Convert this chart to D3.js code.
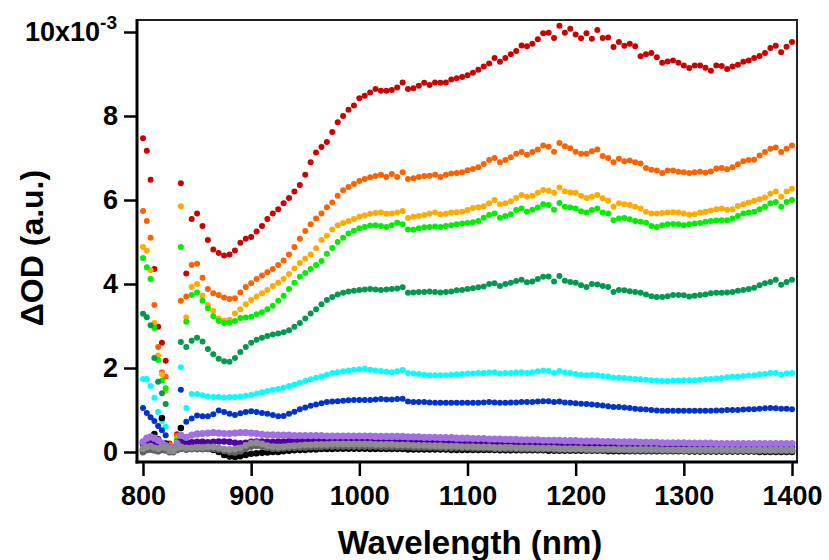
<!DOCTYPE html>
<html>
<head>
<meta charset="utf-8">
<script src="https://cdn.jsdelivr.net/npm/d3@7"></script>
<style>
  body { margin: 0; background: #fff; }
  svg text { font-family: "Liberation Sans", Arial, sans-serif; font-weight: bold; fill: #000; }
</style>
</head>
<body>
<svg id="chart" width="829" height="560"></svg>
<script>
// Wavelength grids (nm): noisy early points, then the main scan.
var earlyNm = [800, 803.5, 807, 810.5, 814, 817.5, 821, 824.5, 828, 831.5, 835];
var mainNm = [
  840, 845, 850, 855, 860, 865, 870, 875, 880, 885,
  890, 895, 900, 905, 910, 915, 920, 925, 930, 935,
  940, 945, 950, 955, 960, 965, 970, 975, 980, 985,
  990, 995, 1000, 1005, 1010, 1015, 1020, 1025, 1030, 1035,
  1040, 1045, 1050, 1055, 1060, 1065, 1070, 1075, 1080, 1085,
  1090, 1095, 1100, 1105, 1110, 1115, 1120, 1125, 1130, 1135,
  1140, 1145, 1150, 1155, 1160, 1165, 1170, 1175, 1180, 1185,
  1190, 1195, 1200, 1205, 1210, 1215, 1220, 1225, 1230, 1235,
  1240, 1245, 1250, 1255, 1260, 1265, 1270, 1275, 1280, 1285,
  1290, 1295, 1300, 1305, 1310, 1315, 1320, 1325, 1330, 1335,
  1340, 1345, 1350, 1355, 1360, 1365, 1370, 1375, 1380, 1385,
  1390, 1395, 1400];

// dOD values in units of 1e-3.
var redEarly = [7.47, 7.17, 6.48, 4.36, 2.98, 2.6, 2.17, 0.2, 0.12, 0.42, 6.4];
var red = [
  4.25, 5.55, 5.68, 5.38, 5.05, 4.82, 4.74, 4.68, 4.7, 4.8,
  4.98, 5.08, 5.12, 5.25, 5.38, 5.55, 5.68, 5.78, 5.92, 6.05,
  6.2, 6.36, 6.6, 6.9, 7.13, 7.26, 7.38, 7.62, 7.85, 8.0,
  8.15, 8.25, 8.42, 8.48, 8.56, 8.64, 8.6, 8.6, 8.62, 8.68,
  8.8, 8.64, 8.66, 8.72, 8.79, 8.74, 8.8, 8.79, 8.8, 8.87,
  8.9, 8.93, 8.97, 9.03, 9.1, 9.18, 9.25, 9.38, 9.29, 9.38,
  9.47, 9.55, 9.68, 9.66, 9.72, 9.83, 9.97, 9.98, 9.86, 10.15,
  9.98, 10.08, 9.94, 9.85, 9.97, 9.84, 10.05, 9.86, 9.87, 9.64,
  9.76, 9.67, 9.72, 9.66, 9.42, 9.47, 9.5, 9.4, 9.27, 9.3,
  9.32, 9.27, 9.2, 9.14, 9.2, 9.2, 9.15, 9.08, 9.2, 9.19,
  9.12, 9.18, 9.22, 9.29, 9.32, 9.38, 9.43, 9.5, 9.62, 9.67,
  9.52, 9.65, 9.76];

var orangeEarly = [5.74, 5.5, 5.1, 3.5, 2.5, 1.9, 1.79, 0.18, 0.1, 0.38, 3.6];
var orange = [
  3.7, 4.45, 4.48, 4.15, 3.88, 3.78, 3.74, 3.68, 3.64, 3.66,
  3.8, 3.93, 4.02, 4.12, 4.2, 4.28, 4.36, 4.45, 4.56, 4.7,
  4.88, 5.08, 5.26, 5.42, 5.56, 5.68, 5.83, 5.94, 6.1, 6.23,
  6.31, 6.38, 6.45, 6.5, 6.54, 6.57, 6.6, 6.55, 6.62, 6.55,
  6.66, 6.5, 6.52, 6.55, 6.57, 6.58, 6.6, 6.55, 6.6, 6.63,
  6.64, 6.66, 6.71, 6.74, 6.78, 6.86, 6.95, 7.0, 6.9, 6.95,
  7.02, 7.1, 7.14, 7.08, 7.14, 7.2, 7.3, 7.27, 7.15, 7.36,
  7.28, 7.23, 7.15, 7.1, 7.1, 7.16, 7.2, 7.05, 7.0, 6.9,
  6.98, 6.92, 6.94, 6.9, 6.87, 6.76, 6.72, 6.7, 6.64, 6.7,
  6.7, 6.67, 6.66, 6.64, 6.66, 6.67, 6.65, 6.68, 6.75, 6.76,
  6.73, 6.78, 6.85, 6.92, 6.95, 6.96, 7.06, 7.14, 7.22, 7.25,
  7.14, 7.22, 7.3];

var amberEarly = [4.88, 4.79, 4.33, 3.07, 2.3, 1.85, 1.45, 0.15, 0.1, 0.33, 5.85];
var amber = [
  3.2, 3.93, 4.0, 3.72, 3.5, 3.36, 3.18, 3.13, 3.15, 3.3,
  3.4, 3.52, 3.62, 3.7, 3.78, 3.86, 3.95, 4.03, 4.12, 4.24,
  4.37, 4.5, 4.6, 4.7, 4.85, 5.05, 5.15, 5.3, 5.4, 5.45,
  5.5, 5.55, 5.6, 5.63, 5.67, 5.69, 5.7, 5.67, 5.68, 5.7,
  5.74, 5.57, 5.6, 5.62, 5.64, 5.68, 5.7, 5.66, 5.67, 5.7,
  5.71, 5.72, 5.76, 5.81, 5.83, 5.85, 5.92, 6.0, 5.9, 5.92,
  5.97, 6.05, 6.12, 6.08, 6.1, 6.17, 6.24, 6.22, 6.17, 6.3,
  6.2, 6.18, 6.17, 6.1, 6.05, 6.08, 6.12, 6.04, 5.98, 5.84,
  5.92, 5.9, 5.88, 5.84, 5.8, 5.72, 5.68, 5.68, 5.69, 5.7,
  5.71, 5.7, 5.68, 5.65, 5.66, 5.7, 5.72, 5.75, 5.78, 5.8,
  5.77, 5.78, 5.86, 5.9, 5.94, 5.98, 6.02, 6.06, 6.15, 6.2,
  6.08, 6.2, 6.27];

var greenEarly = [4.62, 4.4, 4.12, 2.95, 2.19, 1.7, 1.52, 0.14, 0.08, 0.28, 4.88];
var green = [
  3.1, 3.74, 3.8, 3.6, 3.42, 3.23, 3.12, 3.07, 3.08, 3.12,
  3.19, 3.2, 3.22, 3.28, 3.33, 3.4, 3.48, 3.6, 3.72, 3.88,
  4.03, 4.17, 4.26, 4.36, 4.45, 4.55, 4.72, 4.86, 5.0, 5.1,
  5.2, 5.27, 5.33, 5.36, 5.39, 5.4, 5.38, 5.36, 5.4, 5.46,
  5.42, 5.3, 5.29, 5.33, 5.35, 5.36, 5.37, 5.36, 5.38, 5.4,
  5.42, 5.44, 5.45, 5.47, 5.5, 5.58, 5.64, 5.68, 5.58, 5.62,
  5.66, 5.76, 5.8, 5.72, 5.77, 5.82, 5.9, 5.88, 5.77, 5.93,
  5.84, 5.82, 5.8, 5.73, 5.7, 5.76, 5.8, 5.7, 5.68, 5.52,
  5.56, 5.57, 5.54, 5.5, 5.48, 5.46, 5.38, 5.36, 5.4, 5.42,
  5.43, 5.42, 5.4, 5.42, 5.44, 5.45, 5.48, 5.5, 5.51, 5.52,
  5.52, 5.56, 5.62, 5.68, 5.7, 5.72, 5.78, 5.84, 5.92, 5.95,
  5.84, 5.95, 6.0];

var forestEarly = [3.29, 3.21, 3.02, 2.24, 1.67, 1.4, 1.14, 0.12, 0.07, 0.25, 2.62];
var forest = [
  2.5, 2.65, 2.72, 2.63, 2.45, 2.33, 2.22, 2.16, 2.15, 2.24,
  2.38, 2.5, 2.6, 2.67, 2.72, 2.76, 2.8, 2.82, 2.85, 2.9,
  2.98, 3.07, 3.18, 3.3, 3.4, 3.52, 3.62, 3.69, 3.75, 3.79,
  3.82, 3.84, 3.86, 3.87, 3.88, 3.87, 3.86, 3.87, 3.88, 3.89,
  3.92, 3.79, 3.8, 3.81, 3.81, 3.82, 3.81, 3.8, 3.81, 3.82,
  3.85, 3.86, 3.88, 3.9, 3.92, 3.94, 4.0, 4.02, 3.95, 4.0,
  4.03, 4.07, 4.1, 4.04, 4.06, 4.12, 4.17, 4.18, 4.06, 4.19,
  4.08, 4.05, 4.03, 3.97, 3.93, 4.0, 3.99, 3.95, 3.93, 3.81,
  3.86, 3.85, 3.83, 3.81, 3.79, 3.75, 3.71, 3.69, 3.69, 3.71,
  3.74, 3.74, 3.73, 3.7, 3.72, 3.74, 3.75, 3.78, 3.79, 3.79,
  3.8, 3.81, 3.84, 3.86, 3.88, 3.91, 3.97, 4.02, 4.05, 4.1,
  3.98, 4.05, 4.1];

var cyanEarly = [1.74, 1.74, 1.57, 1.29, 0.95, 0.74, 0.6, 0.1, 0.06, 0.22, 2.02];
var cyan = [
  1.05, 1.38, 1.38, 1.35, 1.32, 1.31, 1.31, 1.3, 1.31, 1.31,
  1.32, 1.34, 1.36, 1.39, 1.42, 1.45, 1.48, 1.5, 1.53, 1.57,
  1.61, 1.65, 1.69, 1.73, 1.77, 1.8, 1.84, 1.88, 1.9, 1.92,
  1.94, 1.96, 1.97, 1.98, 1.96, 1.94, 1.93, 1.91, 1.9, 1.92,
  1.95, 1.88, 1.87, 1.86, 1.84, 1.83, 1.83, 1.83, 1.83, 1.84,
  1.85, 1.86, 1.87, 1.87, 1.88, 1.88, 1.89, 1.9, 1.87, 1.88,
  1.88, 1.89, 1.9, 1.88, 1.9, 1.92, 1.94, 1.93, 1.88, 1.93,
  1.89, 1.88, 1.86, 1.84, 1.83, 1.84, 1.83, 1.81, 1.8, 1.77,
  1.77, 1.76, 1.75, 1.74, 1.73, 1.72, 1.71, 1.7, 1.69, 1.69,
  1.7, 1.7, 1.71, 1.71, 1.71, 1.72, 1.73, 1.74, 1.75, 1.76,
  1.78, 1.79, 1.8, 1.81, 1.82, 1.83, 1.85, 1.86, 1.88, 1.88,
  1.84, 1.87, 1.88];

var blueEarly = [1.05, 0.93, 0.83, 0.74, 0.62, 0.52, 0.4, 0.08, 0.05, 0.18, 1.48];
var blue = [
  0.72, 0.8, 0.87, 0.85, 0.85, 0.9, 0.99, 0.95, 0.91, 0.88,
  0.92, 0.95, 0.97, 0.95, 0.93, 0.91, 0.88, 0.85, 0.86, 0.91,
  0.96, 1.02, 1.06, 1.1, 1.13, 1.16, 1.19, 1.2, 1.21, 1.22,
  1.23, 1.24, 1.24, 1.24, 1.24, 1.25, 1.26, 1.25, 1.25, 1.26,
  1.27, 1.2, 1.19, 1.19, 1.19, 1.18, 1.17, 1.17, 1.17, 1.17,
  1.17, 1.17, 1.17, 1.17, 1.17, 1.18, 1.19, 1.18, 1.17, 1.17,
  1.18, 1.18, 1.19, 1.19, 1.19, 1.2, 1.21, 1.21, 1.19, 1.2,
  1.18, 1.17, 1.16, 1.15, 1.14, 1.13, 1.12, 1.11, 1.09, 1.07,
  1.07, 1.06, 1.05, 1.03, 1.02, 1.01, 1.0, 0.99, 0.98, 0.98,
  0.98, 0.98, 0.98, 0.98, 0.98, 0.98, 0.98, 0.98, 0.99, 0.99,
  1.0, 1.0, 1.0, 1.01, 1.02, 1.02, 1.03, 1.04, 1.05, 1.04,
  1.03, 1.03, 1.02];

var blackEarly = [0.05, 0.12, 0.22, 0.43, 0.3, 0.81, 0.2, 0.05, 0.03, 0.1, 0.57];
var black = [
  0.12, 0.1, 0.08, 0.08, 0.07, 0.05, 0.0, -0.07, -0.11, -0.12,
  -0.1, -0.07, -0.04, -0.03, -0.02, -0.01, 0.0, 0.0, 0.02, 0.03,
  0.04, 0.05, 0.05, 0.06, 0.06, 0.07, 0.07, 0.07, 0.08, 0.08,
  0.08, 0.08, 0.08, 0.08, 0.07, 0.07, 0.07, 0.07, 0.07, 0.07,
  0.07, 0.06, 0.06, 0.06, 0.06, 0.06, 0.06, 0.06, 0.06, 0.05,
  0.05, 0.05, 0.05, 0.05, 0.05, 0.05, 0.05, 0.05, 0.04, 0.04,
  0.04, 0.04, 0.04, 0.04, 0.04, 0.04, 0.04, 0.03, 0.03, 0.03,
  0.03, 0.03, 0.03, 0.03, 0.03, 0.03, 0.03, 0.03, 0.02, 0.02,
  0.02, 0.02, 0.02, 0.02, 0.02, 0.02, 0.02, 0.02, 0.02, 0.02,
  0.02, 0.02, 0.02, 0.01, 0.01, 0.01, 0.01, 0.01, 0.01, 0.01,
  0.01, 0.01, 0.01, 0.01, 0.01, 0.01, 0.0, 0.0, 0.0, 0.0,
  0.0, 0.0, 0.0];

var violetEarly = [0.19, 0.2, 0.23, 0.24, 0.22, 0.17, 0.12, 0.08, 0.06, 0.15, 0.25];
var violet = [
  0.22, 0.23, 0.24, 0.24, 0.23, 0.24, 0.25, 0.25, 0.24, 0.22,
  0.21, 0.22, 0.24, 0.25, 0.25, 0.24, 0.24, 0.25, 0.25, 0.26,
  0.26, 0.27, 0.27, 0.27, 0.28, 0.28, 0.28, 0.28, 0.28, 0.28,
  0.28, 0.28, 0.28, 0.28, 0.27, 0.27, 0.27, 0.27, 0.27, 0.26,
  0.26, 0.26, 0.26, 0.25, 0.25, 0.25, 0.25, 0.24, 0.24, 0.24,
  0.24, 0.23, 0.23, 0.23, 0.22, 0.22, 0.22, 0.22, 0.21, 0.21,
  0.21, 0.2, 0.2, 0.2, 0.2, 0.19, 0.19, 0.19, 0.19, 0.18,
  0.18, 0.18, 0.18, 0.17, 0.17, 0.17, 0.17, 0.16, 0.16, 0.16,
  0.16, 0.15, 0.15, 0.15, 0.15, 0.15, 0.14, 0.14, 0.14, 0.14,
  0.14, 0.13, 0.13, 0.13, 0.13, 0.13, 0.13, 0.12, 0.12, 0.12,
  0.12, 0.12, 0.12, 0.12, 0.12, 0.12, 0.12, 0.12, 0.12, 0.12,
  0.12, 0.12, 0.12];

var lilacEarly = [0.24, 0.33, 0.36, 0.33, 0.28, 0.21, 0.15, 0.1, 0.08, 0.2, 0.4];
var lilac = [
  0.35, 0.4, 0.43, 0.44, 0.45, 0.46, 0.45, 0.44, 0.44, 0.45,
  0.46, 0.46, 0.45, 0.44, 0.42, 0.41, 0.41, 0.4, 0.4, 0.4,
  0.39, 0.39, 0.39, 0.39, 0.39, 0.39, 0.38, 0.38, 0.38, 0.38,
  0.38, 0.38, 0.38, 0.38, 0.38, 0.37, 0.37, 0.37, 0.37, 0.37,
  0.37, 0.36, 0.36, 0.36, 0.35, 0.35, 0.35, 0.34, 0.34, 0.34,
  0.33, 0.33, 0.33, 0.32, 0.32, 0.32, 0.31, 0.31, 0.31, 0.3,
  0.3, 0.3, 0.29, 0.29, 0.29, 0.29, 0.28, 0.28, 0.28, 0.28,
  0.27, 0.27, 0.27, 0.26, 0.26, 0.26, 0.26, 0.25, 0.25, 0.25,
  0.24, 0.24, 0.24, 0.24, 0.23, 0.23, 0.23, 0.23, 0.22, 0.22,
  0.22, 0.22, 0.22, 0.21, 0.21, 0.21, 0.21, 0.21, 0.2, 0.2,
  0.2, 0.2, 0.2, 0.2, 0.2, 0.2, 0.2, 0.2, 0.2, 0.2,
  0.2, 0.2, 0.2];

var slateEarly = [0.0, 0.05, 0.06, 0.04, 0.02, 0.05, 0.04, 0.0, 0.0, 0.05, 0.08];
var slate = [
  0.06, 0.07, 0.07, 0.07, 0.08, 0.08, 0.06, 0.03, 0.0, -0.01,
  0.02, 0.08, 0.13, 0.15, 0.13, 0.1, 0.08, 0.08, 0.09, 0.1,
  0.1, 0.11, 0.11, 0.12, 0.12, 0.12, 0.13, 0.13, 0.13, 0.13,
  0.13, 0.13, 0.13, 0.13, 0.13, 0.13, 0.12, 0.12, 0.12, 0.12,
  0.12, 0.12, 0.11, 0.11, 0.11, 0.11, 0.11, 0.1, 0.1, 0.1,
  0.1, 0.1, 0.1, 0.09, 0.09, 0.09, 0.09, 0.08, 0.08, 0.08,
  0.08, 0.08, 0.07, 0.07, 0.07, 0.07, 0.07, 0.07, 0.06, 0.06,
  0.06, 0.06, 0.06, 0.06, 0.05, 0.05, 0.05, 0.05, 0.05, 0.05,
  0.05, 0.05, 0.04, 0.04, 0.04, 0.04, 0.04, 0.04, 0.04, 0.04,
  0.04, 0.04, 0.03, 0.03, 0.03, 0.03, 0.03, 0.03, 0.03, 0.03,
  0.03, 0.03, 0.03, 0.03, 0.03, 0.03, 0.03, 0.03, 0.03, 0.03,
  0.03, 0.03, 0.03];

var greyEarly = [0.08, 0.12, 0.14, 0.1, 0.08, 0.12, 0.1, 0.04, 0.03, 0.1, 0.12];
var grey = [
  0.1, 0.1, 0.11, 0.11, 0.12, 0.12, 0.1, 0.07, 0.06, 0.07,
  0.1, 0.16, 0.21, 0.22, 0.19, 0.15, 0.13, 0.12, 0.13, 0.14,
  0.15, 0.16, 0.17, 0.17, 0.18, 0.18, 0.18, 0.19, 0.19, 0.19,
  0.19, 0.19, 0.19, 0.19, 0.19, 0.18, 0.18, 0.18, 0.18, 0.17,
  0.17, 0.17, 0.16, 0.16, 0.16, 0.15, 0.15, 0.15, 0.14, 0.14,
  0.14, 0.13, 0.13, 0.13, 0.12, 0.12, 0.12, 0.11, 0.11, 0.11,
  0.11, 0.1, 0.1, 0.1, 0.1, 0.09, 0.09, 0.09, 0.09, 0.08,
  0.08, 0.08, 0.08, 0.08, 0.07, 0.07, 0.07, 0.07, 0.07, 0.07,
  0.06, 0.06, 0.06, 0.06, 0.06, 0.06, 0.06, 0.06, 0.05, 0.05,
  0.05, 0.05, 0.05, 0.05, 0.05, 0.05, 0.05, 0.05, 0.05, 0.05,
  0.05, 0.05, 0.05, 0.05, 0.05, 0.05, 0.05, 0.05, 0.05, 0.05,
  0.05, 0.05, 0.05];

var yTicks = [0, 2, 4, 6, 8, 10];
var xTicks = [800, 900, 1000, 1100, 1200, 1300, 1400];

// Draw order: top traces first, the flat bands near zero last.
var series = [
  { color: "#cc0000", r: 3, early: redEarly, main: red },
  { color: "#ff6000", r: 3, early: orangeEarly, main: orange },
  { color: "#ffaa00", r: 3, early: amberEarly, main: amber },
  { color: "#00ee00", r: 3, early: greenEarly, main: green },
  { color: "#009a4e", r: 3, early: forestEarly, main: forest },
  { color: "#00ffff", r: 3, early: cyanEarly, main: cyan },
  { color: "#0033cc", r: 3, early: blueEarly, main: blue },
  { color: "#000000", r: 3.3, early: blackEarly, main: black },
  { color: "#5000a0", r: 3.3, early: violetEarly, main: violet },
  { color: "#a070e0", r: 3.6, early: lilacEarly, main: lilac },
  { color: "#606060", r: 3.4, early: slateEarly, main: slate },
  { color: "#8c8c8c", r: 3.4, early: greyEarly, main: grey }
];

var svg = d3.select("#chart");

var x = d3.scaleLinear().domain([800, 1400]).range([143, 792]);
var y = d3.scaleLinear().domain([0, 10]).range([452, 32]);

var frame = { left: 137, right: 797, top: 20, bottom: 462 };

// data points
var plot = svg.append("g");
series.forEach(function (s) {
  var pts = earlyNm.map(function (nm, i) { return [nm, s.early[i]]; })
    .concat(mainNm.map(function (nm, i) { return [nm, s.main[i]]; }));
  plot.append("g")
    .attr("fill", s.color)
    .selectAll("circle")
    .data(pts)
    .enter().append("circle")
    .attr("cx", function (d) { return x(d[0]); })
    .attr("cy", function (d) { return y(d[1]); })
    .attr("r", s.r);
});

// frame
svg.append("rect")
  .attr("x", frame.left).attr("y", frame.top)
  .attr("width", frame.right - frame.left)
  .attr("height", frame.bottom - frame.top)
  .attr("fill", "none").attr("stroke", "#222").attr("stroke-width", 2);

// y axis
var yAxis = svg.append("g")
  .attr("transform", "translate(" + frame.left + ",0)")
  .call(d3.axisLeft(y).tickValues(yTicks).tickSize(13).tickPadding(6));
yAxis.select(".domain").remove();
yAxis.selectAll(".tick line").attr("stroke", "#000").attr("stroke-width", 2.5);
yAxis.selectAll(".tick text").attr("font-size", 27).attr("fill", "#000");
var topLabel = yAxis.selectAll(".tick text").filter(function (d) { return d === 10; });
topLabel.text("10x10").attr("x", -20);
topLabel.append("tspan").attr("font-size", 19).attr("dy", -12).text("-3");

// x axis
var xAxis = svg.append("g")
  .attr("transform", "translate(0," + frame.bottom + ")")
  .call(d3.axisBottom(x).tickValues(xTicks).tickFormat(d3.format("d")).tickSize(14).tickPadding(10));
xAxis.select(".domain").remove();
xAxis.selectAll(".tick line").attr("stroke", "#000").attr("stroke-width", 2.5);
xAxis.selectAll(".tick text").attr("font-size", 27).attr("fill", "#000");

// heavier left and bottom axis lines
svg.append("line")
  .attr("x1", frame.left).attr("x2", frame.left)
  .attr("y1", frame.top - 1).attr("y2", frame.bottom + 1.5)
  .attr("stroke", "#000").attr("stroke-width", 3);
svg.append("line")
  .attr("x1", frame.left - 1.5).attr("x2", frame.right + 1)
  .attr("y1", frame.bottom).attr("y2", frame.bottom)
  .attr("stroke", "#000").attr("stroke-width", 3);

// axis titles
svg.append("text")
  .attr("x", 470).attr("y", 554)
  .attr("text-anchor", "middle")
  .attr("font-size", 33)
  .text("Wavelength (nm)");

svg.append("text")
  .attr("transform", "translate(43,248) rotate(-90)")
  .attr("text-anchor", "middle")
  .attr("font-size", 32)
  .text("\u0394OD (a.u.)");
</script>
</body>
</html>
